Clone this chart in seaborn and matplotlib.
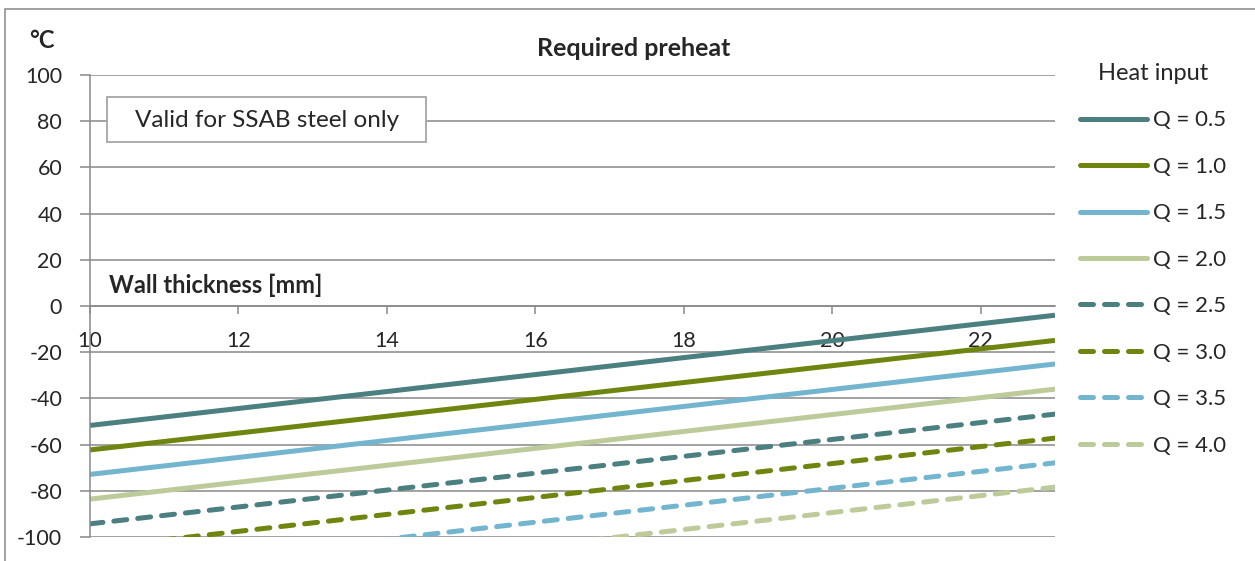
import pandas as pd
import seaborn as sns
import matplotlib.pyplot as plt
from matplotlib.patches import Rectangle

# Required preheat vs wall thickness, one straight line per heat input
thickness = [10, 23]
q_labels = ['Q = 0.5', 'Q = 1.0', 'Q = 1.5', 'Q = 2.0',
            'Q = 2.5', 'Q = 3.0', 'Q = 3.5', 'Q = 4.0']
temp_at_10 = [-51.7, -62.3, -72.9, -83.6, -94.3, -104.9, -115.6, -126.1]
temp_at_23 = [-4.0, -14.9, -25.1, -36.0, -46.8, -57.2, -67.9, -78.4]
y_ticks = [-100, -80, -60, -40, -20, 0, 20, 40, 60, 80, 100]
x_ticks = [10, 12, 14, 16, 18, 20, 22]

colors = ['#4B7F80', '#6E860F', '#73B5CF', '#BDCB9B'] * 2
palette = dict(zip(q_labels, colors))
dashes = {q: ('' if i < 4 else (2.6, 2.2)) for i, q in enumerate(q_labels)}

rows = []
for q, t0, t1 in zip(q_labels, temp_at_10, temp_at_23):
    rows.append({'Wall thickness': thickness[0], 'Preheat': t0, 'Q': q})
    rows.append({'Wall thickness': thickness[1], 'Preheat': t1, 'Q': q})
df = pd.DataFrame(rows)

sns.set_style('white')
plt.rcParams['font.family'] = ['Lato', 'DejaVu Sans']
plt.rcParams['axes.unicode_minus'] = False
grid_col = '#898989'

fig = plt.figure(figsize=(12.55, 5.61), dpi=100)
ax = fig.add_axes([90 / 1255, 24 / 561, 965 / 1255, 462 / 561])

sns.lineplot(data=df, x='Wall thickness', y='Preheat', hue='Q', style='Q',
             hue_order=q_labels, style_order=q_labels, palette=palette,
             dashes=dashes, linewidth=3.6, ax=ax, legend=True)
for line in ax.get_lines():
    line.set_dash_capstyle('round')
    line.set_solid_capstyle('butt')

ax.set_xlim(10, 23)
ax.set_ylim(-100, 100)
ax.set_xticks(x_ticks)
ax.set_yticks(y_ticks)
ax.set_xlabel('')
ax.set_ylabel('')
ax.yaxis.grid(True, color=grid_col, linewidth=1.1)
ax.xaxis.grid(False)
ax.set_axisbelow(True)

for s in ['top', 'right']:
    ax.spines[s].set_visible(False)
ax.spines['bottom'].set_position(('data', 0))
for s in ['left', 'bottom']:
    ax.spines[s].set_color(grid_col)
    ax.spines[s].set_linewidth(1.1)
ax.tick_params(axis='y', direction='out', length=7, width=1.1, color=grid_col,
               pad=13, labelsize=15.5, left=True)
ax.tick_params(axis='x', direction='out', length=6, width=1.1, color=grid_col,
               pad=12, labelsize=15.5, bottom=True)

ax.text(10.25, 9, 'Wall thickness [mm]', fontsize=17, fontweight='bold', va='center')
ax.add_patch(Rectangle((10.23, 70.9), 4.3, 19.5, facecolor='white',
                       edgecolor='#A6A6A6', linewidth=1.3, zorder=3))
ax.text(12.38, 80.5, 'Valid for SSAB steel only', fontsize=17.5, ha='center',
        va='center', zorder=4)

fig.text(0.505, 1 - 48 / 561, 'Required preheat', fontsize=18, fontweight='bold',
         ha='center', va='center')
fig.text(42 / 1255, 1 - 40 / 561, '°C', fontsize=17, fontweight='bold',
         ha='center', va='center')

leg = ax.get_legend()
handles = leg.legend_handles
labels = [t.get_text() for t in leg.texts]
leg.remove()
for h in handles:
    h.set_dash_capstyle('round')
    h.set_solid_capstyle('round')
fig.legend(handles, labels, title='Heat input', loc='upper left',
           bbox_to_anchor=(1080 / 1255, 1 - 63 / 561), frameon=False,
           fontsize=16, title_fontsize=17, handlelength=3.0, handletextpad=0.3,
           labelspacing=1.19, borderpad=0, borderaxespad=0)

fig.patches.append(Rectangle((5 / 1255, -0.05), 1.2, 0.984 + 0.05, fill=False,
                             edgecolor=grid_col, linewidth=1.1,
                             transform=fig.transFigure, figure=fig))

fig.savefig('out.png', dpi=100)
